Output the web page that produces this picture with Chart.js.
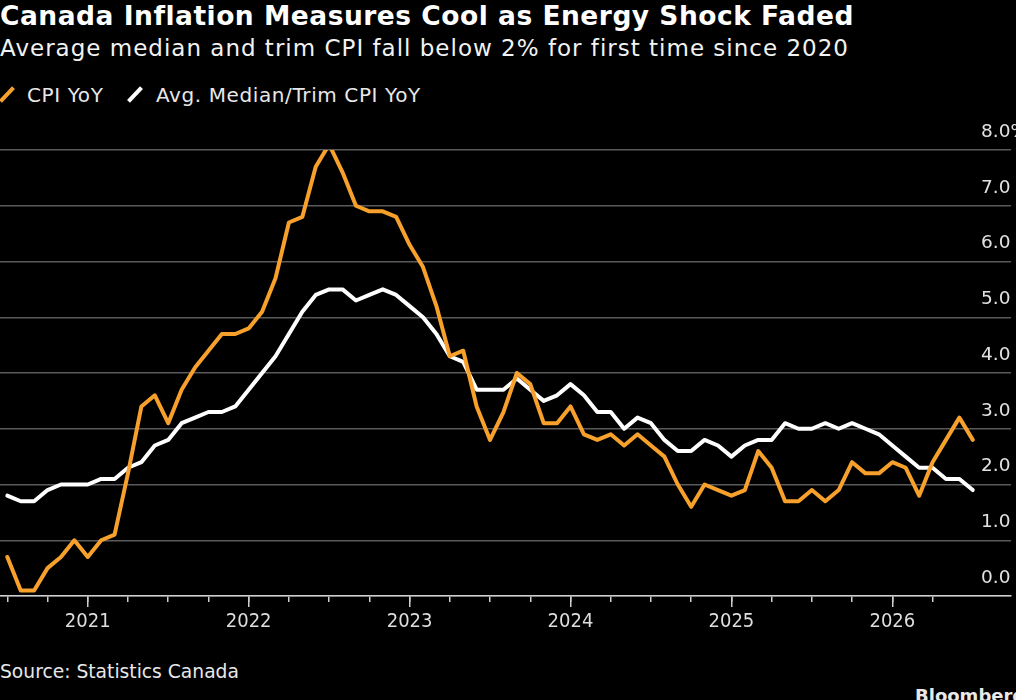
<!DOCTYPE html>
<html>
<head>
<meta charset="utf-8">
<script src="https://cdn.jsdelivr.net/npm/chart.js@4.4.1/dist/chart.umd.min.js"></script>
<style>
  html, body { margin: 0; padding: 0; background: #000; overflow: hidden; }
  body { width: 1016px; height: 700px; position: relative; font-family: "DejaVu Sans", sans-serif; color: #fff; }
  .txt { position: absolute; white-space: nowrap; line-height: 1; }
  #title { left: 0; top: 3px; font-size: 26.5px; font-weight: bold; letter-spacing: 0.5px; }
  #subtitle { left: 0; top: 37px; font-size: 23px; letter-spacing: 1px; color: #f2f2f2; }
  #legend { left: 0; top: 85px; font-size: 20px; letter-spacing: 0.6px; color: #e8e8e8; }
  .item { position: absolute; top: 0; white-space: nowrap; }
  .slash { position: absolute; width: 4px; height: 19px; transform: rotate(43deg); top: 0px; }
  #source { left: 0; top: 663px; font-size: 18.7px; color: #e8e8e8; }
  #brand { left: 915px; top: 687px; font-size: 18px; font-weight: bold; color: #e8e8e8; }
  #wrap { position: absolute; left: 0; top: 110px; width: 1016px; height: 545px; }
</style>
</head>
<body>
<div id="title" class="txt">Canada Inflation Measures Cool as Energy Shock Faded</div>
<div id="subtitle" class="txt">Average median and trim CPI fall below 2% for first time since 2020</div>
<div id="legend" class="txt">
  <span class="slash" style="left:5px;background:#f7a12c"></span>
  <span class="item" style="left:27px">CPI YoY</span>
  <span class="slash" style="left:133px;background:#fff"></span>
  <span class="item" style="left:156px">Avg. Median/Trim CPI YoY</span>
</div>
<div id="wrap"><canvas id="chart"></canvas></div>
<div id="source" class="txt">Source: Statistics Canada</div>
<div id="brand" class="txt">Bloomberg</div>

<script>
// monthly readings, first value is June 2020 (x index 0), last June 2026
const startMonth = '2020-06';
const cpiYoY = [
  0.7, 0.1, 0.1, 0.5, 0.7, 1.0, 0.7, 1.0, 1.1, 2.2, 3.4, 3.6,
  3.1, 3.7, 4.1, 4.4, 4.7, 4.7, 4.8, 5.1, 5.7, 6.7, 6.8, 7.7,
  8.1, 7.6, 7.0, 6.9, 6.9, 6.8, 6.3, 5.9, 5.2, 4.3, 4.4, 3.4,
  2.8, 3.3, 4.0, 3.8, 3.1, 3.1, 3.4, 2.9, 2.8, 2.9, 2.7, 2.9,
  2.7, 2.5, 2.0, 1.6, 2.0, 1.9, 1.8, 1.9, 2.6, 2.3, 1.7, 1.7,
  1.9, 1.7, 1.9, 2.4, 2.2, 2.2, 2.4, 2.3, 1.8, 2.4, 2.8, 3.2,
  2.8
];
const avgCoreYoY = [
  1.8, 1.7, 1.7, 1.9, 2.0, 2.0, 2.0, 2.1, 2.1, 2.3, 2.4, 2.7,
  2.8, 3.1, 3.2, 3.3, 3.3, 3.4, 3.7, 4.0, 4.3, 4.7, 5.1, 5.4,
  5.5, 5.5, 5.3, 5.4, 5.5, 5.4, 5.2, 5.0, 4.7, 4.3, 4.2, 3.7,
  3.7, 3.7, 3.9, 3.7, 3.5, 3.6, 3.8, 3.6, 3.3, 3.3, 3.0, 3.2,
  3.1, 2.8, 2.6, 2.6, 2.8, 2.7, 2.5, 2.7, 2.8, 2.8, 3.1, 3.0,
  3.0, 3.1, 3.0, 3.1, 3.0, 2.9, 2.7, 2.5, 2.3, 2.3, 2.1, 2.1,
  1.9
];
const seriesNames = ['CPI YoY', 'Avg. Median/Trim CPI YoY'];

// x axis: month index from startMonth
const quarterTicks = [0, 3, 6, 9, 12, 15, 18, 21, 24, 27, 30, 33, 36, 39, 42, 45, 48, 51, 54, 57, 60, 63, 66, 69];
const yearTicks = [6, 18, 30, 42, 54, 66];
const yearLabels = ['2021', '2022', '2023', '2024', '2025', '2026'];
// y axis
const yTicks = [0, 1, 2, 3, 4, 5, 6, 7, 8];
const yLabels = ['0.0', '1.0', '2.0', '3.0', '4.0', '5.0', '6.0', '7.0', '8.0%'];

const toPoints = arr => arr.map((v, i) => ({ x: i, y: v }));

const xMin = -0.545, xMax = 74.85;
const tickColor = '#cfcfcf';

new Chart(document.getElementById('chart'), {
  type: 'line',
  data: {
    datasets: [
      {
        label: seriesNames[0],
        data: toPoints(cpiYoY),
        borderColor: '#f7a12c',
        borderWidth: 4,
        borderJoinStyle: 'round',
        borderCapStyle: 'round',
        pointRadius: 0,
        tension: 0
      },
      {
        label: seriesNames[1],
        data: toPoints(avgCoreYoY),
        borderColor: '#ffffff',
        borderWidth: 4,
        borderJoinStyle: 'round',
        borderCapStyle: 'round',
        pointRadius: 0,
        tension: 0
      }
    ]
  },
  options: {
    responsive: true,
    maintainAspectRatio: false,
    animation: false,
    layout: { padding: { top: 40, left: 0, right: 0, bottom: 0 } },
    plugins: { legend: { display: false }, tooltip: { enabled: false } },
    scales: {
      xq: {
        type: 'linear', position: 'bottom', weight: 0,
        min: xMin, max: xMax,
        afterBuildTicks: s => { s.ticks = quarterTicks.map(v => ({ value: v })); },
        afterFit: s => { s.height = 0; },
        grid: { drawOnChartArea: false, drawTicks: true, tickLength: 6, color: tickColor, lineWidth: 1.5 },
        border: { display: true, color: tickColor, width: 1.5 },
        ticks: { display: true, autoSkip: false, callback: () => '' }
      },
      x: {
        type: 'linear', position: 'bottom', weight: 1,
        min: xMin, max: xMax,
        afterBuildTicks: s => { s.ticks = yearTicks.map(v => ({ value: v })); },
        afterFit: s => { s.height = 59; },
        grid: { drawOnChartArea: false, drawTicks: true, tickLength: 11, color: tickColor, lineWidth: 1.5 },
        border: { display: false },
        ticks: {
          autoSkip: false, maxRotation: 0, padding: 3,
          color: '#dedede',
          font: { family: "'Liberation Sans Narrow', 'DejaVu Sans Condensed', 'Arial Narrow', sans-serif", size: 20 },
          callback: (v) => yearLabels[yearTicks.indexOf(v)]
        }
      },
      y: {
        type: 'linear', position: 'right',
        min: 0, max: 8,
        afterBuildTicks: s => { s.ticks = yTicks.map(v => ({ value: v })); },
        afterFit: s => { s.width = 5; },
        grid: { drawTicks: false, color: '#5a5a5a', lineWidth: 1.5 },
        border: { display: false },
        ticks: {
          mirror: true, crossAlign: 'far',
          padding: 17, labelOffset: -18,
          color: '#e2e2e2',
          font: { family: "'DejaVu Sans', sans-serif", size: 18.5 },
          callback: (v) => yLabels[yTicks.indexOf(v)]
        }
      }
    }
  }
});
</script>
</body>
</html>
